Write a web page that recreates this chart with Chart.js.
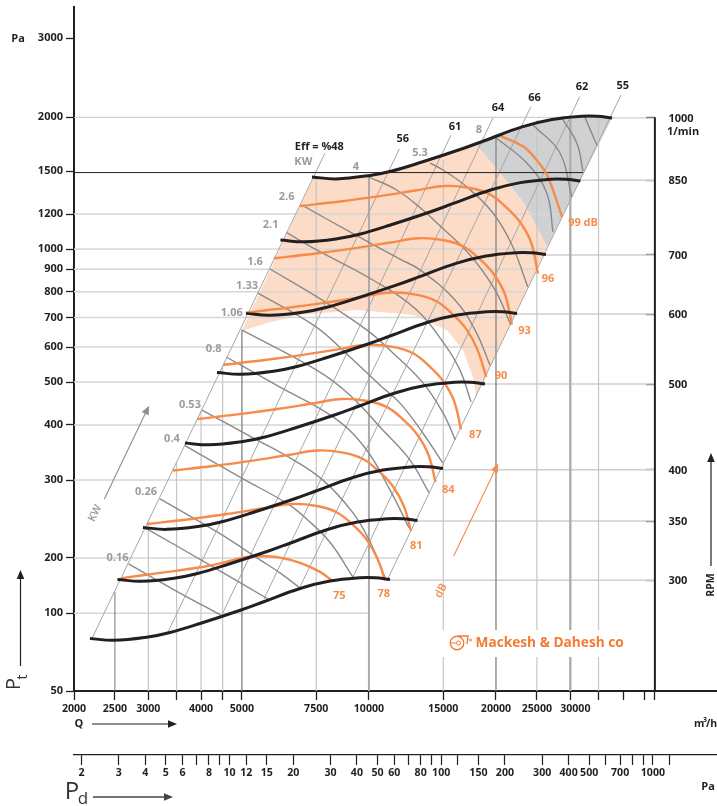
<!DOCTYPE html>
<html>
<head>
<meta charset="utf-8">
<title>Fan chart</title>
<script src="https://cdn.jsdelivr.net/npm/chart.js@4/dist/chart.umd.min.js"></script>
<style>
  html, body { margin: 0; padding: 0; background: #fff; }
  canvas { display: block; }
</style>
</head>
<body>
<canvas id="fanChart" width="717" height="806"></canvas>
<script>
// Axis ticks
const qTicks = [2000, 2500, 3000, 3500, 4000, 4500, 5000, 7500, 10000, 15000, 20000, 25000, 30000, 35000, 40000, 45000, 47600];
const qTickLabels = ['2000', '2500', '3000', '', '4000', '', '5000', '7500', '10000', '15000', '20000', '25000', '', '', '', '', ''];
const pTicks = [100, 150, 200, 300, 400, 500, 600, 700, 800, 900, 1000, 1200, 1500, 1986, 3000];
const pTickLabels = ['50', '100', '200', '300', '400', '500', '600', '700', '800', '900', '1000', '1200', '1500', '2000', '3000'];
const pdTicks = [2, 3, 4, 5, 6, 7, 8, 9, 10, 12, 15, 20, 30, 40, 50, 60, 70, 80, 90, 100, 120, 150, 200, 300, 400, 500, 600, 700, 800, 900, 1000, 1200];
const pdTickLabels = ['2', '3', '4', '5', '6', '', '8', '', '10', '12', '15', '20', '30', '40', '50', '60', '', '80', '', '100', '', '150', '200', '300', '400', '500', '', '700', '', '', '1000', ''];
const rpmTicks = [300, 350, 400, 500, 600, 700, 850, 1000];

// Speed curves, Q then Pt
const q300 = [2182, 2488, 2996, 3377, 3977, 4974, 5610, 6865, 8084, 9522, 10338, 11217];
const p300 = [131.5, 130.2, 132.5, 135.6, 142.1, 152.5, 159, 170.6, 177.3, 180.4, 180.4, 178.8];
const q350 = [2535, 2891, 3481, 3924, 4621, 5780, 6519, 7977, 9394, 11065, 12013, 13034];
const p350 = [178.8, 177.1, 180.2, 184.4, 193.3, 207.4, 216.2, 232, 241.1, 245.3, 245.3, 243.2];
const q400 = [2913, 3321, 4000, 4508, 5309, 6640, 7489, 9165, 10792, 12712, 13801, 14975];
const p400 = [234.5, 232.1, 236.2, 241.8, 253.4, 271.9, 283.5, 304.2, 316.1, 321.7, 321.7, 318.8];
const q500 = [3664, 4177, 5030, 5670, 6677, 8351, 9419, 11526, 13573, 15988, 17358, 18833];
const p500 = [364.1, 360.5, 366.9, 375.5, 393.5, 422.3, 440.3, 472.4, 490.9, 499.5, 499.5, 495.1];
const q600 = [4364, 4976, 5992, 6754, 7954, 9948, 11220, 13730, 16168, 19044, 20676, 22434];
const p600 = [525.7, 520.5, 529.7, 542.1, 568.1, 609.7, 635.7, 682.1, 708.8, 721.2, 721.2, 714.8];
const q700 = [5110, 5827, 7017, 7909, 9314, 11649, 13139, 16078, 18933, 22300, 24212, 26270];
const p700 = [715.1, 708, 720.5, 737.4, 772.7, 829.3, 864.6, 927.7, 964.2, 981, 981, 972.3];
const q850 = [6169, 7034, 8470, 9547, 11243, 14061, 15859, 19407, 22853, 26919, 29226, 31710];
const p850 = [1048, 1038, 1056, 1081, 1133, 1216, 1268, 1360, 1413, 1438, 1438, 1425];
const q1000 = [7327, 8355, 10060, 11340, 13355, 16703, 18838, 23053, 27146, 31975, 34715, 37667];
const p1000 = [1456, 1441, 1467, 1501, 1573, 1688, 1760, 1889, 1963, 1997, 1997, 1979];

// Noise curves
const qDb75 = [2598, 3198, 3914, 4436, 4994, 5420, 6044, 6865, 7654, 8160];
const pDb75 = [180, 185, 190, 194.5, 200, 201.7, 201, 195, 186, 178];
const qDb78 = [2979, 3706, 4609, 5580, 6572, 7531, 8401, 9217, 9893, 10507, 10915];
const pDb78 = [238.7, 244.4, 251.4, 258.8, 265, 262.1, 253.5, 236.3, 219.6, 197.9, 178];
const qDb81 = [3433, 4271, 5311, 6430, 7573, 8679, 9681, 10622, 11401, 12108, 12579];
const pDb81 = [315.4, 323, 332.1, 341.9, 350.1, 346.3, 335, 312.2, 290.2, 261.5, 230];
const qDb84 = [3924, 4881, 6070, 7350, 8656, 9920, 11066, 12141, 13032, 13840, 14378];
const pDb84 = [412.5, 422.4, 434.4, 447.2, 457.9, 452.9, 438.1, 408.4, 379.5, 342, 297];
const qDb87 = [4510, 5610, 6977, 8447, 9949, 11401, 12718, 13954, 14978, 15907, 16525];
const pDb87 = [547, 560.1, 576, 592.9, 607.2, 600.6, 580.9, 541.5, 503.2, 453.5, 391];
const qDb90 = [5112, 6359, 7908, 9575, 11277, 12923, 14416, 15817, 16977, 18030, 18965];
const pDb90 = [718, 735.2, 756.1, 778.3, 797, 788.4, 762.5, 710.8, 660.6, 595.2, 514];
const qDb93 = [5954, 7407, 9211, 11152, 13134, 15052, 16790, 18422, 19773, 21000, 21815];
const pDb93 = [953, 975.9, 1003.5, 1033.1, 1057.8, 1046.4, 1012.1, 943.5, 876.8, 790, 675];
const qDb96 = [6864, 8539, 10619, 12856, 15142, 17352, 19356, 21237, 22795, 24209, 25150];
const pDb96 = [1251, 1281, 1317, 1356, 1389, 1374, 1329, 1238, 1151, 1037, 880];
const qDb99 = [20480, 23260, 24740, 26420, 28680];
const pDb99 = [1802, 1704, 1606, 1470, 1183];

// Power curves
const qKw016 = [2693, 3470, 4484];
const pKw016 = [194, 169, 148];
const qKw020 = [2947, 4270, 5764];
const pKw020 = [234, 191, 161.5];
const qKw026 = [3198, 4436, 5518, 6154, 6865];
const pKw026 = [272, 227, 198, 185, 171];
const qKw040 = [3664, 4994, 6383, 7119, 8084, 9166];
const pKw040 = [359, 303, 266, 245, 217, 181];
const qKw053 = [4020, 5312, 6500, 7780, 9166, 10000, 10914];
const pKw053 = [432, 374, 337, 300, 253, 220, 181];
const qKw080 = [4602, 6154, 8218, 9786, 11217, 12442];
const pKw080 = [569, 487, 417, 355, 285, 234];
const qKw106 = [4994, 7518, 9016, 10796, 12510, 13874];
const pKw106 = [656, 532, 467, 389, 333, 281];
const qKw133 = [5458, 7450, 9016, 10622, 11848, 13428, 14954];
const pKw133 = [795, 669, 570, 492, 448, 383, 328];
const qKw160 = [5828, 7518, 9878, 11400, 13428, 14978, 16020];
const pKw160 = [901, 780, 656, 582, 498, 426, 370];
const qKw210 = [6383, 7518, 10220, 12976, 15140, 16432, 17452];
const pKw210 = [1089, 995, 851, 728, 607, 532, 451];
const qKw260 = [6928, 9016, 11848, 13208, 15992, 17836, 19356];
const pKw260 = [1258, 1093, 949, 897, 767, 656, 546];
const qKw400 = [10000, 11632, 13428, 14496, 17356, 19892, 21700];
const pKw400 = [1455, 1360, 1225, 1145, 969, 808, 673];
const qKw530 = [13952, 14978, 17074, 19676, 21820, 23800];
const pKw530 = [1565, 1509, 1381, 1206, 1021, 820];
const qKw800 = [19892, 23660, 26380, 27300];
const pKw800 = [1792, 1565, 1339, 1093];
const qKw1000 = [24480, 28360, 30240];
const pKw1000 = [1908, 1649, 1311];
const qKw1250 = [28640, 31080, 32160];
const pKw1250 = [1979, 1737, 1501];
const qKw1600 = [32500, 34660];
const pKw1600 = [1986, 1720];

// Efficiency rays
const qEff48 = [2202, 7868];
const pEff48 = [131, 1649];
const qEff56 = [3340, 11800];
const pEff56 = [136, 1684];
const qEff61 = [4502, 15648];
const pEff61 = [150, 1810];
const qEff64 = [5640, 19676];
const pEff64 = [161.5, 1979];
const qEff66 = [6865, 24200];
const pEff66 = [172, 2099];
const qEff62 = [9166, 31580];
const pEff62 = [181, 2211];
const qEff55 = [11036, 39560];
const pEff55 = [178, 2230];

// Shaded zones
const qPeach = [4994, 7396, 8355, 10060, 11340, 13355, 16703, 17836, 20440, 23300, 26420, 17940, 17640, 16700, 15300, 12720, 10622, 9366, 6865, 5732];
const pPeach = [652, 1455, 1441, 1467, 1501, 1573, 1688, 1737, 1486, 1271, 1010, 463, 513, 591, 656, 709, 720, 728, 709, 680];
const qGray = [17836, 18838, 23053, 27146, 31975, 34715, 37667, 26420, 23300, 20440];
const pGray = [1737, 1760, 1889, 1963, 1997, 1997, 1979, 1010, 1271, 1486];

// Grid extents
const vGridQ = [2500, 3000, 3500, 4000, 4500, 5000, 7500, 10000, 15000, 20000, 25000, 30000, 35000];
const vGridTopP = [167.5, 242, 328, 430, 546, 656, 1447, 1455, 1590, 1792, 1959, 2010, 1990];
const hGridP = [150, 200, 300, 400, 500, 600, 700, 800, 900, 1000, 1200, 1489, 1986];
const hGridEndQ = [10000, 11716, 13874, 16520, 18833, 20280, 21940, 23420, 24880, 26200, 28680, 32160, 38000];
const rpmLineStartQ = [11217, 13034, 14975, 18833, 22434, 26270, 31710, 37667];

// Direction arrows
const qKwArrow = [2360, 2992];
const pKwArrow = [272, 436];
const qDbArrow = [15880, 20110];
const pDbArrow = [202, 323];

const BLACK = '#231f20';
const ORANGE = '#f68b4b';
const GREY_TEXT = '#9b9b9b';
const FONT = '"Open Sans", sans-serif';
const RPM_AXIS_Q = 47600;
const BLACK_GRID_P = 1489;

const zip = (xs, ys) => xs.map((x, i) => ({ x: x, y: ys[i] }));

function curve(xs, ys, color, width, order, tension) {
    return {
        data: zip(xs, ys),
        showLine: true,
        borderColor: color,
        borderWidth: width,
        pointRadius: 0,
        tension: tension,
        order: order,
        fill: false
    };
}

function zone(xs, ys, color) {
    return {
        data: zip(xs, ys),
        showLine: true,
        borderWidth: 0,
        borderColor: 'transparent',
        backgroundColor: color,
        pointRadius: 0,
        tension: 0,
        order: 9,
        fill: 'shape'
    };
}

const datasets = [];

// black speed curves sit on top of everything
[[q300, p300], [q350, p350], [q400, p400], [q500, p500], [q600, p600], [q700, p700], [q850, p850], [q1000, p1000]].forEach(c => {
    datasets.push(curve(c[0], c[1], BLACK, 3, 1, 0.4));
});
[[qDb75, pDb75], [qDb78, pDb78], [qDb81, pDb81], [qDb84, pDb84], [qDb87, pDb87], [qDb90, pDb90], [qDb93, pDb93], [qDb96, pDb96], [qDb99, pDb99]].forEach(c => {
    datasets.push(curve(c[0], c[1], ORANGE, 2.4, 2, 0.4));
});
[[qKw016, pKw016], [qKw020, pKw020], [qKw026, pKw026], [qKw040, pKw040], [qKw053, pKw053], [qKw080, pKw080], [qKw106, pKw106], [qKw133, pKw133], [qKw160, pKw160], [qKw210, pKw210], [qKw260, pKw260], [qKw400, pKw400], [qKw530, pKw530], [qKw800, pKw800], [qKw1000, pKw1000], [qKw1250, pKw1250], [qKw1600, pKw1600]].forEach(c => {
    datasets.push(curve(c[0], c[1], '#8a8a8a', 1.4, 3, 0.4));
});
[[qEff48, pEff48], [qEff56, pEff56], [qEff61, pEff61], [qEff64, pEff64], [qEff66, pEff66], [qEff62, pEff62], [qEff55, pEff55]].forEach(c => {
    datasets.push(curve(c[0], c[1], '#a6a6a6', 1, 4, 0));
});
datasets.push(curve(qKwArrow, pKwArrow, '#8f8f8f', 1.1, 4, 0));
datasets.push(curve(qDbArrow, pDbArrow, ORANGE, 1.1, 4, 0));

// vertical grid, some of the lines are heavier
const vGridStyle = {
    2500: ['#777777', 1], 5000: ['#808080', 1.3], 10000: ['#aaaaaa', 2],
    20000: ['#8a8a8a', 1.4], 30000: ['#b0b0b0', 2.5]
};
vGridQ.forEach((q, i) => {
    const style = vGridStyle[q] || ['#c6c6c6', 1.2];
    datasets.push(curve([q, q], [100, vGridTopP[i]], style[0], style[1], 5, 0));
});
hGridP.forEach((p, i) => {
    const isBlack = p === BLACK_GRID_P;
    const color = isBlack ? BLACK : (p === 1986 ? '#c4c4c4' : '#d6d6d6');
    const width = isBlack || p === 1986 ? 1 : 1.5;
    datasets.push(curve([2000, hGridEndQ[i]], [p, p], color, width, isBlack ? 2 : 5, 0));
});
rpmTicks.forEach((rpm, i) => {
    const color = rpm === 1000 ? '#c4c4c4' : '#cfcfcf';
    const line = curve([rpmLineStartQ[i], RPM_AXIS_Q], [rpm, rpm], color, rpm === 1000 ? 1 : 1.5, 5, 0);
    line.yAxisID = 'yRpm';
    datasets.push(line);
});
datasets.push(curve([RPM_AXIS_Q, RPM_AXIS_Q], [100, 1986], BLACK, 2, 1, 0));
datasets.push(zone(qPeach, pPeach, '#fddcc7'));
datasets.push(zone(qGray, pGray, '#cfd1d3'));

function text(ctx, str, x, y, font, color, rotate) {
    ctx.save();
    ctx.translate(x, y);
    if (rotate) ctx.rotate(rotate);
    ctx.font = font;
    ctx.fillStyle = color;
    ctx.textAlign = 'center';
    ctx.textBaseline = 'middle';
    ctx.fillText(str, 0, 0);
    ctx.restore();
}

function arrowHead(ctx, x1, y1, x2, y2, color) {
    ctx.save();
    ctx.fillStyle = color;
    ctx.translate(x2, y2);
    ctx.rotate(Math.atan2(y2 - y1, x2 - x1));
    ctx.beginPath();
    ctx.moveTo(3, 0);
    ctx.lineTo(-6, -3.8);
    ctx.lineTo(-6, 3.8);
    ctx.closePath();
    ctx.fill();
    ctx.restore();
}

function arrowLine(ctx, x1, y1, x2, y2, color, width) {
    ctx.save();
    ctx.strokeStyle = color;
    ctx.lineWidth = width;
    ctx.beginPath();
    ctx.moveTo(x1, y1);
    ctx.lineTo(x2, y2);
    ctx.stroke();
    ctx.restore();
    arrowHead(ctx, x1, y1, x2, y2, color);
}

const annotations = {
    id: 'annotations',
    afterDatasetsDraw(chart) {
        const ctx = chart.ctx;
        const x = chart.scales.x;
        const y = chart.scales.y;
        const bold = '700 11px ' + FONT;
        const at = (qs, ps, i) => [x.getPixelForValue(qs[i]), y.getPixelForValue(ps[i])];
        const first = (str, qs, ps, dx, dy, color, font) => {
            const p = at(qs, ps, 0);
            text(ctx, str, p[0] + dx, p[1] + dy, font || bold, color);
        };
        const last = (str, qs, ps, dx, dy, color, font) => {
            const p = at(qs, ps, qs.length - 1);
            text(ctx, str, p[0] + dx, p[1] + dy, font || bold, color);
        };

        // power labels sit just before the start of their curve
        first('0.16', qKw016, pKw016, -11, -5.5, GREY_TEXT);
        first('0.26', qKw026, pKw026, -14, -7, GREY_TEXT);
        first('0.4', qKw040, pKw040, -13, -7, GREY_TEXT);
        first('0.53', qKw053, pKw053, -12, -5, GREY_TEXT);
        first('0.8', qKw080, pKw080, -13, -8, GREY_TEXT);
        first('1.06', qKw106, pKw106, -10, -17, GREY_TEXT);
        first('1.33', qKw133, pKw133, -11, -7, GREY_TEXT);
        first('1.6', qKw160, pKw160, -15, -7, GREY_TEXT);
        first('2.1', qKw210, pKw210, -16, -8, GREY_TEXT);
        first('2.6', qKw260, pKw260, -15, -8, GREY_TEXT);
        first('4', qKw400, pKw400, -13, -10, GREY_TEXT);
        first('5.3', qKw530, pKw530, -10, -10, GREY_TEXT);
        first('8', qKw800, pKw800, -16, -7, GREY_TEXT);

        // efficiency labels at the top of each ray
        last('KW', qEff48, pEff48, -21.7, 9.3, GREY_TEXT);
        last('Eff = %48', qEff48, pEff48, -5.7, -6.3, BLACK);
        last('56', qEff56, pEff56, 3.4, -10, BLACK);
        last('61', qEff61, pEff61, 4, -8.3, BLACK);
        last('64', qEff64, pEff64, 5, -9.7, BLACK);
        last('66', qEff66, pEff66, 3.7, -8.4, BLACK);
        last('62', qEff62, pEff62, 2.3, -9.4, BLACK);
        last('55', qEff55, pEff55, 1.7, -9, BLACK);

        // noise labels at the end of each curve
        last('75', qDb75, pDb75, 7.6, 16, ORANGE);
        last('78', qDb78, pDb78, -1.3, 13.7, ORANGE);
        last('81', qDb81, pDb81, 5.3, 14.3, ORANGE);
        last('84', qDb84, pDb84, 12.7, 8, ORANGE);
        last('87', qDb87, pDb87, 14.4, 5.7, ORANGE);
        last('90', qDb90, pDb90, 14.7, -0.7, ORANGE);
        last('93', qDb93, pDb93, 12.7, 6.7, ORANGE);
        last('96', qDb96, pDb96, 10, 5, ORANGE);
        last('99 dB', qDb99, pDb99, 21, 6.6, ORANGE);

        // direction arrows, the shafts are datasets
        const ka = at(qKwArrow, pKwArrow, 0);
        const kb = at(qKwArrow, pKwArrow, 1);
        arrowHead(ctx, ka[0], ka[1], kb[0], kb[1], '#8f8f8f');
        text(ctx, 'KW', ka[0] - 9.3, ka[1] + 14.3, '600 11px ' + FONT, GREY_TEXT, -1.1);
        const da = at(qDbArrow, pDbArrow, 0);
        const db = at(qDbArrow, pDbArrow, 1);
        arrowHead(ctx, da[0], da[1], db[0], db[1], ORANGE);
        text(ctx, 'dB', da[0] - 12.7, da[1] + 34.7, '600 11px ' + FONT, ORANGE, -1.1);

        // speed axis labels
        const rpmScale = chart.scales.yRpm;
        rpmTicks.forEach(rpm => {
            ctx.save();
            ctx.font = bold;
            ctx.fillStyle = BLACK;
            ctx.textAlign = 'left';
            ctx.textBaseline = 'middle';
            ctx.fillText(String(rpm), 668.5, rpmScale.getPixelForValue(rpm) + 1);
            ctx.restore();
        });

        // this label sits right of its tick in the original
        text(ctx, '30000', x.getPixelForValue(30000) + 5, 708.5, '700 10.6px ' + FONT, BLACK);

        // logo, the grid stops behind it
        ctx.save();
        ctx.fillStyle = '#fff';
        ctx.fillRect(441, 630, 190, 27);
        ctx.strokeStyle = '#f47b33';
        ctx.lineWidth = 1.4;
        ctx.beginPath();
        ctx.arc(457, 643, 6.8, 0, Math.PI * 2);
        ctx.moveTo(457, 636);
        ctx.lineTo(468, 636);
        ctx.lineTo(467, 644);
        ctx.stroke();
        ctx.lineWidth = 1;
        ctx.beginPath();
        ctx.arc(458.5, 643, 2, 0, Math.PI * 2);
        ctx.moveTo(451, 643);
        ctx.lineTo(456, 643);
        ctx.stroke();
        ctx.beginPath();
        ctx.arc(470.5, 640, 1, 0, Math.PI * 2);
        ctx.stroke();
        ctx.font = '700 13.7px ' + FONT;
        ctx.fillStyle = '#f47b33';
        ctx.textAlign = 'left';
        ctx.textBaseline = 'middle';
        ctx.fillText('Mackesh & Dahesh co', 475.5, 643);
        ctx.restore();

        // axis titles
        text(ctx, 'Pa', 18, 39, bold, BLACK);
        text(ctx, '1/min', 683, 132, bold, BLACK);
        text(ctx, 'RPM', 711, 585, '700 10.5px ' + FONT, BLACK, -Math.PI / 2);
        arrowLine(ctx, 711, 566, 711, 456, BLACK, 1.2);
        text(ctx, 'Q', 79, 724, bold, BLACK);
        arrowLine(ctx, 92, 724, 174, 724, BLACK, 1.2);
        text(ctx, 'Pa', 708, 787, bold, BLACK);
        ctx.save();
        ctx.font = '700 10.5px ' + FONT;
        ctx.fillStyle = BLACK;
        ctx.textAlign = 'left';
        ctx.textBaseline = 'middle';
        ctx.fillText('m', 694, 724);
        ctx.fillText('/h', 706, 724);
        ctx.font = '700 7px ' + FONT;
        ctx.fillText('3', 703, 720);
        ctx.restore();

        // big symbols, Pt on its side and Pd
        text(ctx, 'P', 14, 684, '400 20px ' + FONT, '#333', -Math.PI / 2);
        text(ctx, 't', 23, 677, '400 14px ' + FONT, '#333', -Math.PI / 2);
        arrowLine(ctx, 20.5, 666, 20.5, 573, BLACK, 1.2);
        text(ctx, 'P', 72, 792, '400 24px ' + FONT, '#333');
        text(ctx, 'd', 83, 799, '400 17px ' + FONT, '#333');
        arrowLine(ctx, 93, 797, 170, 797, '#444', 1.6);
    }
};

function fixedTicks(values) {
    return scale => {
        scale.ticks = values.map(v => ({ value: v }));
    };
}

// keeps the plot area where the reference has it, labels must not push it in
function fixHeight(height) {
    return scale => {
        scale.height = height;
        scale.paddingLeft = 0;
        scale.paddingRight = 0;
    };
}

new Chart(document.getElementById('fanChart').getContext('2d'), {
    type: 'scatter',
    data: { datasets: datasets },
    plugins: [annotations],
    options: {
        responsive: false,
        animation: false,
        events: [],
        layout: { padding: { top: 7, left: 0, right: 0, bottom: 0 } },
        plugins: { legend: { display: false }, tooltip: { enabled: false } },
        scales: {
            x: {
                type: 'logarithmic',
                position: 'bottom',
                weight: 0,
                min: 2000,
                max: 66800,
                afterBuildTicks: fixedTicks(qTicks),
                afterFit: fixHeight(64),
                border: { color: BLACK, width: 2 },
                grid: { drawOnChartArea: false, tickLength: 9, tickColor: BLACK, tickWidth: 1.3 },
                ticks: {
                    autoSkip: false, maxRotation: 0, minRotation: 0, padding: 3, color: BLACK,
                    font: { family: 'Open Sans', size: 10.6, weight: '700' },
                    callback: (value, index) => qTickLabels[index]
                }
            },
            xPd: {
                type: 'logarithmic',
                axis: 'x',
                position: 'bottom',
                weight: 1,
                min: 1.844,
                max: 2008,
                afterBuildTicks: fixedTicks(pdTicks),
                afterFit: fixHeight(51),
                border: { color: BLACK, width: 1.2 },
                grid: { drawOnChartArea: false, tickLength: 10, tickColor: BLACK, tickWidth: 1.2 },
                ticks: {
                    autoSkip: false, maxRotation: 0, minRotation: 0, padding: 2, color: BLACK,
                    font: { family: 'Open Sans', size: 10.6, weight: '700' },
                    callback: (value, index) => pdTickLabels[index]
                }
            },
            y: {
                type: 'logarithmic',
                position: 'left',
                min: 100,
                max: 3528,
                afterBuildTicks: fixedTicks(pTicks),
                afterFit: scale => {
                    scale.width = 74;
                    scale.paddingTop = 0;
                    scale.paddingBottom = 0;
                },
                border: { color: BLACK, width: 2 },
                grid: { drawOnChartArea: false, tickLength: 8, tickColor: BLACK, tickWidth: 1.3 },
                ticks: {
                    autoSkip: false, padding: 3, color: BLACK,
                    font: { family: 'Open Sans', size: 11, weight: '700' },
                    callback: (value, index) => pTickLabels[index]
                }
            },
            yRpm: {
                type: 'logarithmic',
                axis: 'y',
                position: { x: RPM_AXIS_Q },
                min: 224.8,
                max: 1335,
                afterBuildTicks: fixedTicks(rpmTicks),
                afterFit: scale => {
                    scale.paddingTop = 0;
                    scale.paddingBottom = 0;
                },
                border: { display: false },
                grid: { drawOnChartArea: false, tickLength: 9, tickColor: BLACK, tickWidth: 1.3 },
                ticks: { display: false }
            }
        }
    }
});
</script>
</body>
</html>
